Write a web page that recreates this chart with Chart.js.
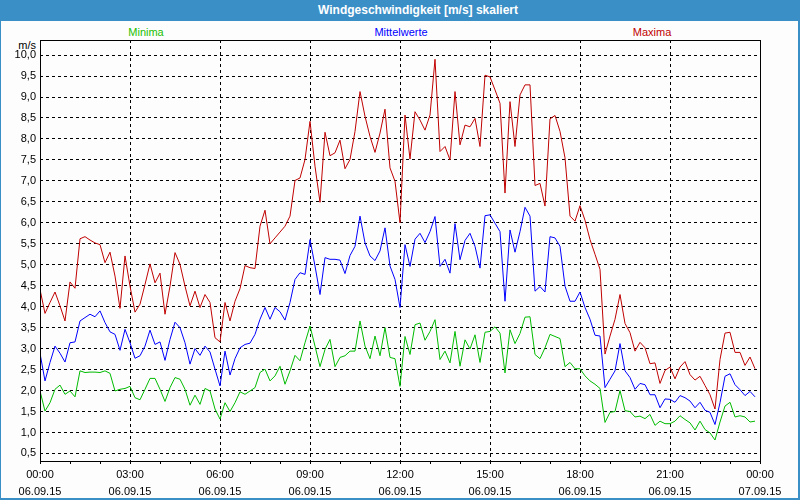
<!DOCTYPE html>
<html>
<head>
<meta charset="utf-8">
<script src="https://cdn.jsdelivr.net/npm/chart.js@4.4.1/dist/chart.umd.min.js"></script>
<style>
  html, body { margin: 0; padding: 0; background: #fff; }
  #wrap { position: relative; width: 800px; height: 500px; overflow: hidden; background: #fdfdfd; font-family: 'Liberation Sans', Arial, sans-serif; }
  #edge { position: absolute; left: 0; top: 0; width: 800px; height: 500px; box-sizing: border-box; border: 2px solid #3b8fc7; border-left-width: 1px; }
  #head { position: absolute; left: 0; top: 0; width: 800px; height: 21px; background: #3b8fc7; color: #fff; font-weight: bold; font-size: 12px; line-height: 21px; text-align: center; padding-left: 36px; box-sizing: border-box; }
  #box { position: absolute; left: 0; top: 0; width: 800px; height: 500px; }
  .lbl { position: absolute; font-size: 11px; line-height: 13px; top: 26px; transform: translateX(-50%); white-space: nowrap; }
  #unit { position: absolute; font-size: 11px; line-height: 13px; top: 39px; right: 764px; }
</style>
</head>
<body>
<div id="wrap">
  <div id="edge"></div>
  <div id="head">Windgeschwindigkeit [m/s] skaliert</div>
  <span class="lbl" style="left:146px;color:#22c000">Minima</span>
  <span class="lbl" style="left:401px;color:#0000ff">Mittelwerte</span>
  <span class="lbl" style="left:652px;color:#c00000">Maxima</span>
  <span id="unit">m/s</span>
  <div id="box"><canvas id="windChart"></canvas></div>
</div>
<script>
// 10-Minuten-Werte, 06.09.15 00:00 bis 23:50
const maxima = [
  4.41, 3.84, 4.10, 4.35, 4.02, 3.66, 4.59, 4.44, 5.62, 5.67, 5.59, 5.52, 5.48, 5.05, 5.30, 4.73, 3.96, 5.21, 4.49, 3.87, 4.06, 4.53, 5.02, 4.57,
  4.80, 3.82, 4.49, 5.29, 5.01, 4.49, 4.02, 4.37, 3.98, 4.29, 4.10, 3.26, 3.16, 4.10, 3.66, 4.13, 4.43, 4.98, 4.93, 4.91, 5.92, 6.30, 5.50, 5.64, 5.78, 5.92,
  6.16, 7.01, 7.07, 7.51, 8.42, 7.35, 6.49, 8.16, 7.60, 7.67, 7.97, 7.29, 7.51, 8.18, 9.13, 8.54, 8.06, 7.68, 8.14, 8.71, 7.31, 6.99,
  6.00, 8.57, 7.52, 8.65, 8.45, 8.21, 8.57, 9.90, 7.70, 7.82, 7.50, 9.13, 7.86, 8.33, 8.29, 8.49, 7.82, 9.52, 9.48, 9.17, 8.85, 6.71, 8.89, 7.82, 9.05, 9.29,
  9.29, 6.89, 6.94, 6.40, 8.48, 8.56, 8.18, 7.55, 6.16, 6.04, 6.41, 6.06, 5.60, 5.25, 4.89, 2.87, 3.30, 3.70, 4.29, 3.60, 3.38, 2.94,
  3.15, 3.02, 2.64, 2.66, 2.17, 2.48, 2.56, 2.28, 2.56, 2.69, 2.38, 2.25, 2.34, 2.12, 1.90, 1.56, 2.74, 3.37, 3.39, 2.91, 2.91, 2.60, 2.80, 2.52
];
const mittelwerte = [
  2.89, 2.23, 2.67, 3.06, 2.89, 2.68, 3.14, 3.16, 3.66, 3.74, 3.82, 3.76, 3.90, 3.62, 3.40, 3.34, 2.96, 3.46, 3.14, 2.77, 2.83, 3.06, 3.44, 3.10,
  3.16, 2.72, 3.22, 3.63, 3.50, 3.14, 2.63, 3.00, 2.84, 3.06, 2.92, 2.51, 2.11, 2.94, 2.37, 2.76, 3.02, 3.10, 3.13, 3.34, 3.70, 3.98, 3.70, 3.98, 3.88, 3.68,
  4.10, 4.65, 4.81, 4.77, 5.60, 4.97, 4.29, 5.17, 5.13, 5.13, 5.11, 4.79, 5.22, 5.44, 6.16, 5.52, 5.21, 5.10, 5.33, 5.88, 4.97, 4.65,
  3.98, 5.48, 4.96, 5.61, 5.75, 5.53, 5.79, 6.15, 4.96, 5.13, 4.80, 5.98, 5.12, 5.58, 5.75, 5.44, 4.92, 6.17, 6.19, 5.99, 5.79, 4.13, 5.83, 5.30, 5.79, 6.37,
  6.16, 4.37, 4.48, 4.35, 5.67, 5.64, 5.44, 4.49, 4.13, 4.13, 4.35, 3.98, 3.70, 3.32, 3.30, 2.07, 2.27, 2.47, 3.12, 2.47, 2.31, 2.03,
  2.17, 2.14, 1.90, 1.90, 1.59, 1.80, 1.79, 1.72, 1.88, 1.83, 1.75, 1.59, 1.72, 1.53, 1.48, 1.19, 1.71, 2.34, 2.40, 2.14, 2.02, 1.88, 1.98, 1.85
];
const minima = [
  1.99, 1.51, 1.71, 2.03, 2.13, 1.91, 1.99, 1.85, 2.47, 2.43, 2.44, 2.44, 2.43, 2.47, 2.41, 1.99, 2.03, 2.05, 2.10, 1.83, 1.78, 2.03, 2.29, 2.29,
  2.03, 1.74, 2.07, 2.31, 2.27, 2.03, 1.65, 1.89, 1.67, 2.05, 1.99, 1.56, 1.32, 1.71, 1.50, 1.71, 1.97, 1.91, 1.99, 2.07, 2.43, 2.51, 2.23, 2.35, 2.58, 2.15,
  2.47, 2.84, 2.71, 3.14, 3.54, 3.06, 2.57, 2.98, 3.22, 2.57, 2.79, 2.83, 2.94, 2.94, 3.66, 3.06, 2.76, 3.30, 2.83, 3.50, 2.79, 2.76,
  2.10, 3.29, 2.86, 3.57, 3.61, 3.20, 3.41, 3.69, 2.74, 2.94, 2.66, 3.41, 2.58, 3.21, 2.99, 3.33, 2.67, 3.39, 3.41, 3.52, 3.37, 2.42, 3.45, 3.12, 3.36, 3.75,
  3.76, 2.86, 2.76, 3.02, 3.34, 3.29, 3.24, 2.57, 2.67, 2.52, 2.52, 2.35, 2.23, 2.15, 2.05, 1.24, 1.48, 1.50, 2.00, 1.52, 1.50, 1.37,
  1.39, 1.33, 1.43, 1.17, 1.27, 1.21, 1.21, 1.27, 1.40, 1.31, 1.23, 1.06, 1.27, 1.07, 0.99, 0.82, 1.25, 1.63, 1.72, 1.37, 1.40, 1.37, 1.25, 1.27
];
const xTickTimes = ['00:00', '03:00', '06:00', '09:00', '12:00', '15:00', '18:00', '21:00', '00:00'];
const xTickDates = ['06.09.15', '06.09.15', '06.09.15', '06.09.15', '06.09.15', '06.09.15', '06.09.15', '06.09.15', '07.09.15'];
const yTicks = [0.5, 1.0, 1.5, 2.0, 2.5, 3.0, 3.5, 4.0, 4.5, 5.0, 5.5, 6.0, 6.5, 7.0, 7.5, 8.0, 8.5, 9.0, 9.5, 10.0];

// Index -> Stunden (10-Minuten-Raster)
const toPoints = (arr) => arr.map((v, i) => ({ x: i / 6, y: v }));

const frame = {
  id: 'frame',
  afterDatasetsDraw(chart) {
    const { ctx, chartArea: a } = chart;
    ctx.save();
    ctx.strokeStyle = '#000';
    ctx.lineWidth = 1;
    ctx.strokeRect(Math.round(a.left) + 0.5, Math.round(a.top) + 0.5, Math.round(a.right - a.left), Math.round(a.bottom - a.top));
    ctx.restore();
  }
};

const font = { family: "'Liberation Sans', Arial, sans-serif", size: 11 };

new Chart(document.getElementById('windChart'), {
  type: 'line',
  data: {
    datasets: [
      { label: 'Maxima', data: toPoints(maxima), borderColor: '#c00000' },
      { label: 'Mittelwerte', data: toPoints(mittelwerte), borderColor: '#0000ff' },
      { label: 'Minima', data: toPoints(minima), borderColor: '#00bb00' }
    ]
  },
  options: {
    responsive: true,
    maintainAspectRatio: false,
    animation: false,
    layout: { padding: { top: 40, right: 40, left: 0, bottom: 0 } },
    elements: { point: { radius: 0 }, line: { borderWidth: 1, tension: 0 } },
    plugins: { legend: { display: false }, tooltip: { enabled: false } },
    scales: {
      x: {
        type: 'linear', min: 0, max: 24,
        afterFit: (s) => { s.height = 39; },
        border: { display: false, dash: [3, 3] },
        grid: {
          color: (c) => (c.tick && c.tick.value % 3 === 0 ? '#000' : 'rgba(0,0,0,0)'),
          tickColor: '#000', tickLength: 3
        },
        ticks: {
          stepSize: 1, autoSkip: false, maxRotation: 0, minRotation: 0, padding: 3,
          color: '#000', font: { ...font, lineHeight: 1.5 },
          callback: (v) => (v % 3 === 0 ? [xTickTimes[v / 3], xTickDates[v / 3]] : '')
        }
      },
      y: {
        min: 0.32, max: 10.36,
        afterFit: (s) => { s.width = 40; },
        afterBuildTicks: (s) => { s.ticks = yTicks.map(v => ({ value: v })); },
        border: { display: false, dash: [3, 3] },
        grid: { color: '#000', drawTicks: false },
        ticks: {
          padding: 4, color: '#000', font,
          callback: (v) => v.toFixed(1).replace('.', ',')
        }
      }
    }
  },
  plugins: [frame]
});
</script>
</body>
</html>
